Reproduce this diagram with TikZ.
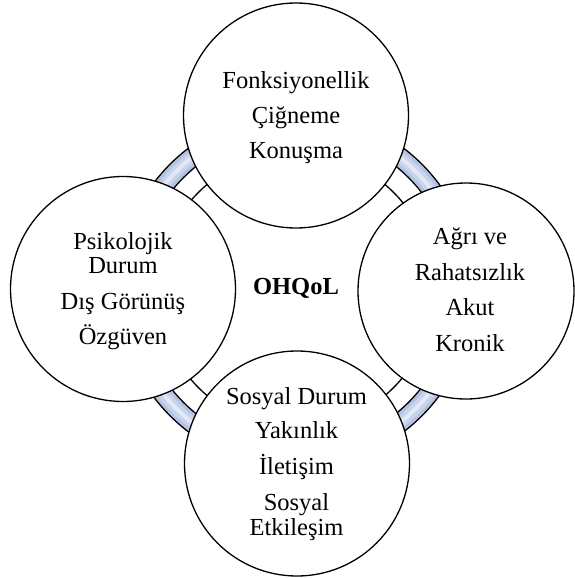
\documentclass[tikz,border=0pt]{standalone}
\usepackage{fontspec}
\setmainfont{Liberation Serif}
\definecolor{bandA}{RGB}{180,195,226}
\definecolor{bandB}{RGB}{200,212,236}
\definecolor{bandC}{RGB}{226,232,245}
\tikzset{
  circ/.style={circle, draw=black, fill=white, line width=1.3pt, inner sep=0pt},
  lbl/.style={font=\fontsize{24.5}{29}\selectfont, anchor=base, inner sep=0pt},
  ringline/.style={draw=black, line width=1.3pt}
}
\begin{document}
\begin{tikzpicture}[x=1pt,y=-1pt]
\useasboundingbox[fill=white] (0,0) rectangle (574,578);
\coordinate (c) at (296,290);
% ring
\draw[bandA, line width=19pt] (c) circle[radius=168.5pt];
\draw[bandB, line width=11pt] (c) circle[radius=168.5pt];
\draw[bandC, line width=4pt] (c) circle[radius=168.5pt];
\draw[ringline] (c) circle[radius=178pt];
\draw[ringline] (c) circle[radius=159pt];
\draw[ringline] (c) circle[radius=138pt];
% circles
\node[circ, minimum size=225pt] (top) at (296,115.5) {};
\node[circ, minimum size=225pt] (left) at (123,289) {};
\node[circ, minimum size=216pt] (right) at (466,291) {};
\node[circ, minimum size=225pt] (bottom) at (297,463.5) {};
% texts
\node[lbl] (t1) at (296,88.5) {Fonksiyonellik};
\node[lbl] (t2) at (296,123.5) {Çiğneme};
\node[lbl] (t3) at (296,158.5) {Konuşma};
\node[lbl] (l1) at (123,249.5) {Psikolojik};
\node[lbl] (l2) at (123,273.5) {Durum};
\node[lbl] (l3) at (123,309.5) {Dış Görünüş};
\node[lbl] (l4) at (123,344.5) {Özgüven};
\node[lbl] (r1) at (470,244) {Ağrı ve};
\node[lbl] (r2) at (470,280) {Rahatsızlık};
\node[lbl] (r3) at (470,315.5) {Akut};
\node[lbl] (r4) at (470,351) {Kronik};
\node[lbl] (b1) at (296.5,404) {Sosyal Durum};
\node[lbl] (b2) at (296.5,438.5) {Yakınlık};
\node[lbl] (b3) at (296.5,474) {İletişim};
\node[lbl] (b4) at (296.5,510.5) {Sosyal};
\node[lbl] (b5) at (296.5,535) {Etkileşim};
\node[lbl, font=\fontsize{24.5}{29}\selectfont\bfseries] (ohqol) at (296,294.5) {OHQoL};
\end{tikzpicture}
\end{document}
